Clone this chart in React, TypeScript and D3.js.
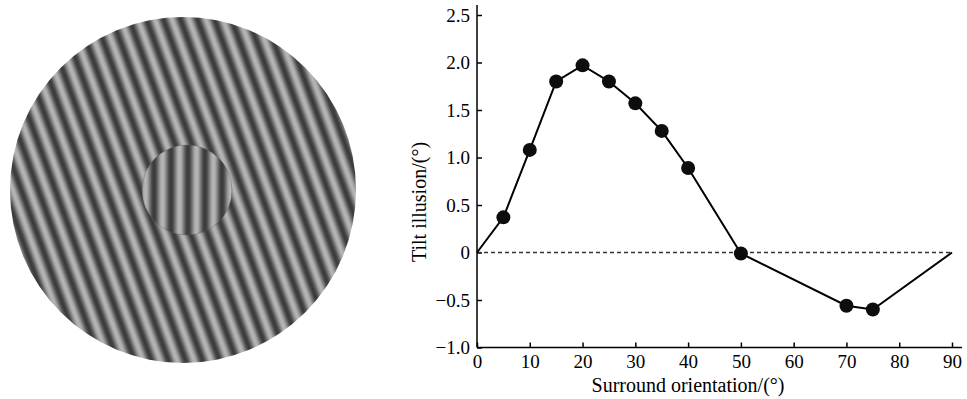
import { useEffect, useRef } from 'react';
import * as d3 from 'd3';

// Surround orientation (deg) vs tilt illusion (deg)
const orientations = [0, 5, 10, 15, 20, 25, 30, 35, 40, 50, 70, 75, 90];
const illusion = [0, 0.37, 1.08, 1.8, 1.97, 1.8, 1.57, 1.28, 0.89, -0.01, -0.56, -0.6, 0];
// first and last points are drawn without a marker
const marked = [false, true, true, true, true, true, true, true, true, true, true, true, false];

const xTicks = [0, 10, 20, 30, 40, 50, 60, 70, 80, 90];
const yTicks = [-1.0, -0.5, 0, 0.5, 1.0, 1.5, 2.0, 2.5];

export default function App() {
  const svgRef = useRef<SVGSVGElement>(null);

  useEffect(() => {
    if (!svgRef.current) return;
    const svg = d3.select(svgRef.current);
    svg.selectAll('*').remove();

    const font = '"Liberation Serif", "Times New Roman", serif';

    // ---- grating stimulus on the left ----
    const defs = svg.append('defs');
    const dark = '#383838';
    const light = '#b8b8b8';
    const shade = d3.interpolateRgb(dark, light);

    const grating = (id: string, period: number, angle: number, shift: number) => {
      const grad = defs.append('linearGradient')
        .attr('id', id)
        .attr('gradientUnits', 'userSpaceOnUse')
        .attr('spreadMethod', 'repeat')
        .attr('x1', shift).attr('y1', 0)
        .attr('x2', shift + period).attr('y2', 0)
        .attr('gradientTransform', `rotate(${angle})`);
      d3.range(0, 1.0001, 0.125).forEach(t => {
        grad.append('stop')
          .attr('offset', t)
          .attr('stop-color', shade((1 - Math.cos(t * 2 * Math.PI)) / 2));
      });
    };
    grating('surround', 16, -20, 3);
    grating('centre', 17, 0, 1);

    svg.append('circle')
      .attr('cx', 183).attr('cy', 190).attr('r', 173)
      .attr('fill', 'url(#surround)');
    svg.append('circle')
      .attr('cx', 187).attr('cy', 190).attr('r', 45)
      .attr('fill', 'url(#centre)')
      .attr('stroke', '#555')
      .attr('stroke-opacity', 0.35)
      .attr('stroke-width', 1);

    // ---- plot ----
    const x = d3.scaleLinear().domain([0, 90]).range([477, 952]);
    const y = d3.scaleLinear().domain([-1, 2.5]).range([347.5, 15]);

    const fmt = (d: number) => d === 0 ? '0' : (d < 0 ? '\u2212' + Math.abs(d).toFixed(1) : d.toFixed(1));

    const xAxis = svg.append('g')
      .attr('transform', `translate(0,${y(-1)})`)
      .call(d3.axisBottom(x).tickValues(xTicks).tickSizeInner(-5).tickSizeOuter(0).tickPadding(7)
        .tickFormat(d => String(d)));
    xAxis.select('.domain').remove();

    const yAxis = svg.append('g')
      .attr('transform', `translate(${x(0)},0)`)
      .call(d3.axisLeft(y).tickValues(yTicks).tickSizeInner(-5).tickSizeOuter(0).tickPadding(7)
        .tickFormat(d => fmt(d as number)));
    yAxis.select('.domain').remove();

    [xAxis, yAxis].forEach(a => {
      a.selectAll('line').attr('stroke', '#000').attr('stroke-width', 1.5);
      a.selectAll('text')
        .attr('fill', '#000')
        .style('font-family', font)
        .style('font-size', '19px');
    });

    // axis lines
    svg.append('line')
      .attr('x1', x(0)).attr('y1', 5)
      .attr('x2', x(0)).attr('y2', y(-1))
      .attr('stroke', '#000').attr('stroke-width', 1.5);
    svg.append('line')
      .attr('x1', x(0)).attr('y1', y(-1))
      .attr('x2', 962).attr('y2', y(-1))
      .attr('stroke', '#000').attr('stroke-width', 1.5);

    // zero reference
    svg.append('line')
      .attr('x1', x(0)).attr('y1', y(0))
      .attr('x2', x(90)).attr('y2', y(0))
      .attr('stroke', '#333')
      .attr('stroke-width', 1.5)
      .attr('stroke-dasharray', '4,3');

    const pts = orientations.map((o, i) => ({ o, v: illusion[i], m: marked[i] }));

    svg.append('path')
      .datum(pts)
      .attr('fill', 'none')
      .attr('stroke', '#000')
      .attr('stroke-width', 2)
      .attr('d', d3.line<{ o: number; v: number }>().x(d => x(d.o)).y(d => y(d.v)));

    svg.selectAll('.pt')
      .data(pts.filter(p => p.m))
      .enter()
      .append('circle')
      .attr('class', 'pt')
      .attr('cx', d => x(d.o))
      .attr('cy', d => y(d.v))
      .attr('r', 7)
      .attr('fill', '#0d0d0d');

    // titles
    svg.append('text')
      .attr('x', 688).attr('y', 392)
      .attr('text-anchor', 'middle')
      .style('font-family', font)
      .style('font-size', '20px')
      .text('Surround orientation/(°)');

    svg.append('text')
      .attr('transform', `translate(426,${202}) rotate(-90)`)
      .attr('text-anchor', 'middle')
      .style('font-family', font)
      .style('font-size', '20px')
      .text('Tilt illusion/(°)');
  }, []);

  return (
    <svg
      ref={svgRef}
      width={967}
      height={399}
      style={{ position: 'absolute', left: 0, top: 0, background: '#fff' }}
    />
  );
}
